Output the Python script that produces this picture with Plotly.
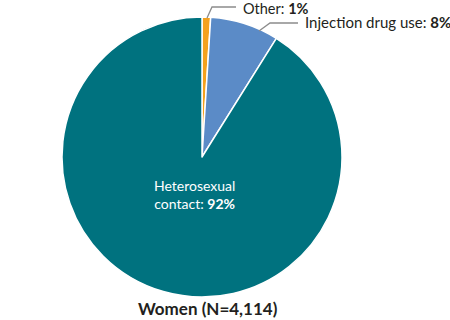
import plotly.graph_objects as go

categories = ["Other", "Injection drug use", "Heterosexual contact"]
values = [1, 8, 92]
colors = ["#F4A11D", "#5B8BC7", "#00727F"]
title_text = "Women (N=4,114)"

W, H = 450, 320
def px(x): return x / W
def py(y): return 1 - y / H

fig = go.Figure(go.Pie(
    labels=categories, values=values, sort=False, direction="clockwise",
    rotation=0, textinfo="none", hoverinfo="label+percent",
    marker=dict(colors=colors, line=dict(color="white", width=1.5)),
    domain=dict(x=[px(62), px(342)], y=[py(297), py(17)]),
    showlegend=False,
))

font = "Lato"
ann = []
ann.append(dict(x=px(241), y=py(8), xref="paper", yref="paper", xanchor="left", yanchor="middle",
                text=f"{categories[0]}: <b>{values[0]}%</b>", showarrow=False,
                font=dict(family=font, size=14.5, color="#231F20")))
ann.append(dict(x=px(303), y=py(22), xref="paper", yref="paper", xanchor="left", yanchor="middle",
                text=f"{categories[1]}: <b>{values[1]}%</b>", showarrow=False,
                font=dict(family=font, size=15, color="#231F20")))
ann.append(dict(x=px(194), y=py(194), xref="paper", yref="paper", xanchor="center", yanchor="middle",
                text=f"Heterosexual<br>contact: <b>{values[2]}%</b>", showarrow=False,
                font=dict(family=font, size=14, color="white")))
ann.append(dict(x=px(208), y=py(308), xref="paper", yref="paper", xanchor="center", yanchor="middle",
                text=f"<b>{title_text}</b>", showarrow=False,
                font=dict(family=font, size=17, color="#231F20")))

line_style = dict(color="#8C8C8C", width=1.3)
shapes = [
    dict(type="path", xref="paper", yref="paper",
         path=f"M {px(207)} {py(18)} L {px(212)} {py(7)} L {px(236)} {py(7)}", line=line_style),
    dict(type="path", xref="paper", yref="paper",
         path=f"M {px(259)} {py(31)} L {px(270)} {py(23)} L {px(298)} {py(23)}", line=line_style),
]

fig.update_layout(width=W, height=H, margin=dict(l=0, r=0, t=0, b=0),
                  paper_bgcolor="white", plot_bgcolor="white",
                  annotations=ann, shapes=shapes)
fig.write_html("out.html")
